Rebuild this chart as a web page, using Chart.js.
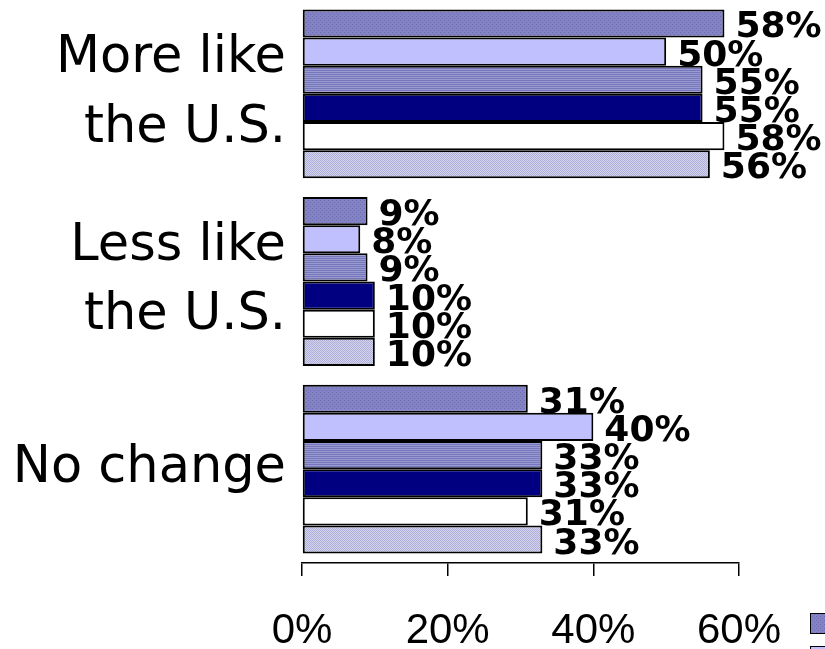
<!DOCTYPE html>
<html>
<head>
<meta charset="utf-8">
<script src="https://cdn.jsdelivr.net/npm/chart.js@4/dist/chart.umd.min.js"></script>
<style>
  html, body { margin: 0; padding: 0; background: #fff; }
  #wrap { width: 825px; height: 649px; }
</style>
</head>
<body>
<div id="wrap"><canvas id="barChart" width="825" height="649"></canvas></div>
<script>
var categories = [['More like', 'the U.S.'], ['Less like', 'the U.S.'], 'No change'];
var series1 = [58, 9, 31];
var series2 = [50, 8, 40];
var series3 = [55, 9, 33];
var series4 = [55, 10, 33];
var series5 = [58, 10, 31];
var series6 = [56, 10, 33];
var xTicks = [0, 20, 40, 60];

function makePattern(kind) {
    var c = document.createElement('canvas');
    c.width = 4; c.height = 4;
    var g = c.getContext('2d');
    if (kind === 'dots') {
        g.fillStyle = '#8282c4'; g.fillRect(0, 0, 4, 4);
        g.fillStyle = '#6c6cb0';
        g.fillRect(0, 0, 1, 1); g.fillRect(2, 2, 1, 1);
    } else if (kind === 'stripes') {
        g.fillStyle = '#9a9ad2'; g.fillRect(0, 0, 4, 4);
        g.fillStyle = '#7676ba';
        g.fillRect(0, 0, 4, 1); g.fillRect(0, 2, 4, 1);
    } else {
        g.fillStyle = '#d4d4ee'; g.fillRect(0, 0, 4, 4);
        g.fillStyle = '#aeaed6';
        g.fillRect(0, 0, 1, 1); g.fillRect(2, 0, 1, 1);
        g.fillRect(1, 1, 1, 1); g.fillRect(3, 1, 1, 1);
        g.fillRect(0, 2, 1, 1); g.fillRect(2, 2, 1, 1);
        g.fillRect(1, 3, 1, 1); g.fillRect(3, 3, 1, 1);
    }
    return document.getElementById('barChart').getContext('2d').createPattern(c, 'repeat');
}

var fills = [makePattern('dots'), '#c0c0ff', makePattern('stripes'), '#000080', '#ffffff', makePattern('checks')];

// value labels at the end of each bar
var valueLabels = {
    id: 'valueLabels',
    afterDatasetsDraw: function (chart) {
        var ctx = chart.ctx;
        ctx.save();
        ctx.font = 'bold 36px "DejaVu Sans"';
        ctx.fillStyle = '#000';
        ctx.textAlign = 'left';
        ctx.textBaseline = 'alphabetic';
        chart.data.datasets.forEach(function (ds, i) {
            chart.getDatasetMeta(i).data.forEach(function (bar, j) {
                ctx.fillText(ds.data[j] + '%', bar.x + 11, bar.y + 14);
            });
        });
        ctx.restore();
    }
};

// legend is mostly off the right edge, only the swatches show
var legendSwatches = {
    id: 'legendSwatches',
    afterDraw: function (chart) {
        var ctx = chart.ctx;
        ctx.save();
        [0, 1].forEach(function (i) {
            var y = 613 + i * 33;
            ctx.fillStyle = fills[i];
            ctx.fillRect(810, y, 20, 20);
            ctx.strokeStyle = '#000';
            ctx.lineWidth = 1;
            ctx.strokeRect(810.5, y + 0.5, 20, 20);
        });
        ctx.restore();
    }
};

function ds(label, data, i) {
    return {
        label: label,
        data: data,
        backgroundColor: fills[i],
        borderColor: '#000',
        borderWidth: 2,
        borderSkipped: false,
        barPercentage: 1.0,
        categoryPercentage: 0.9
    };
}

new Chart(document.getElementById('barChart').getContext('2d'), {
    type: 'bar',
    data: {
        labels: categories,
        datasets: [
            ds('Series 1', series1, 0),
            ds('Series 2', series2, 1),
            ds('Series 3', series3, 2),
            ds('Series 4', series4, 3),
            ds('Series 5', series5, 4),
            ds('Series 6', series6, 5)
        ]
    },
    options: {
        indexAxis: 'y',
        responsive: false,
        animation: false,
        layout: { padding: { top: 0, right: 86, left: 0, bottom: 0 } },
        plugins: {
            legend: { display: false },
            tooltip: { enabled: false }
        },
        scales: {
            x: {
                min: 0,
                max: 60,
                afterBuildTicks: function (scale) {
                    scale.ticks = xTicks.map(function (v) { return { value: v }; });
                },
                afterFit: function (scale) {
                    scale.height = 86;
                    scale.paddingLeft = 0;
                    scale.paddingRight = 0;
                },
                border: { display: true, color: '#000', width: 1.5 },
                grid: { drawOnChartArea: false, drawTicks: true, tickLength: 13, color: '#000', lineWidth: 1.5 },
                ticks: {
                    padding: 30,
                    color: '#000',
                    maxRotation: 0,
                    font: { family: '"Liberation Sans", Arial', size: 42 },
                    callback: function (v) { return v + '%'; }
                }
            },
            y: {
                afterFit: function (scale) {
                    scale.width = 302;
                    scale.paddingTop = 0;
                    scale.paddingBottom = 0;
                },
                border: { display: false },
                grid: { display: false },
                ticks: {
                    padding: 8,
                    color: '#000',
                    font: { family: '"DejaVu Sans"', size: 51, lineHeight: 1.36 }
                }
            }
        }
    },
    plugins: [valueLabels, legendSwatches]
});
</script>
</body>
</html>
